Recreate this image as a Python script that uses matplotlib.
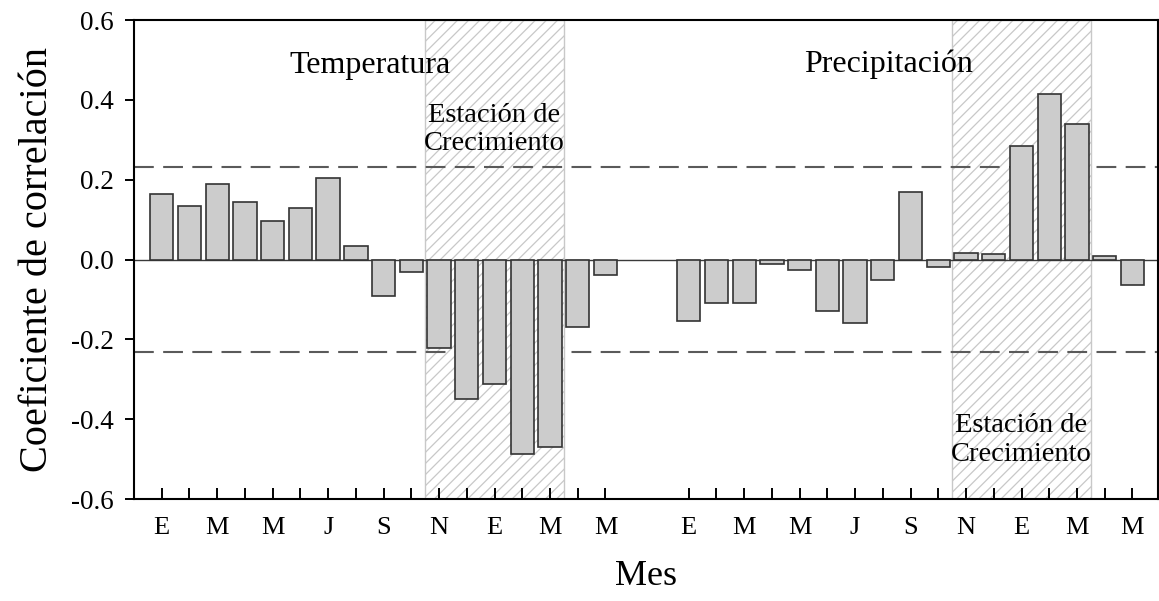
import numpy as np
import matplotlib
matplotlib.use("Agg")
import matplotlib.pyplot as plt

# Month initials from January of the previous year to May of the current year
month_initials = ["E", "F", "M", "A", "M", "J", "J", "A", "S", "O", "N", "D",
                  "E", "F", "M", "A", "M"]

# Correlation coefficients with monthly temperature and precipitation
temp_corr = [0.165, 0.133, 0.189, 0.145, 0.097, 0.128, 0.203, 0.035, -0.092,
             -0.032, -0.221, -0.349, -0.313, -0.488, -0.469, -0.170, -0.040]
prec_corr = [-0.153, -0.108, -0.110, -0.011, -0.027, -0.128, -0.159, -0.052, 0.170,
             -0.018, 0.017, 0.013, 0.284, 0.414, 0.340, 0.008, -0.064]

# Significance threshold (p < 0.05)
signif = 0.232

# Growing season: November to March (indices within each series)
season_start, season_end = 10, 14

plt.rcParams["font.family"] = ["Liberation Serif", "DejaVu Serif"]
plt.rcParams["hatch.linewidth"] = 0.9

fig = plt.figure(figsize=(11.59, 6.01), dpi=100)
ax = fig.add_axes([0.1156, 0.1697, 0.8835, 0.797])

n = len(month_initials)
pos_t = np.arange(n)
pos_p = np.arange(n + 2, 2 * n + 2)

# Growing season shading
for pos in (pos_t, pos_p):
    ax.axvspan(pos[season_start] - 0.5, pos[season_end] + 0.5, facecolor="white",
               edgecolor="#c8c8c8", hatch="///", linewidth=1.0, zorder=1)

# Significance limits and zero line
for s in (signif, -signif):
    ax.axhline(s, color="#5a5a5a", linewidth=1.5, linestyle=(0, (9.5, 4.5)), zorder=2)
ax.axhline(0, color="#3a3a3a", linewidth=1.0, zorder=2)

bar_kw = dict(width=0.84, color="#cccccc", edgecolor="#333333", linewidth=1.2, zorder=3)
ax.bar(pos_t, temp_corr, **bar_kw)
ax.bar(pos_p, prec_corr, **bar_kw)

ax.set_xlim(-1.0, 35.92)
ax.set_ylim(-0.6, 0.6)

# x ticks at every month, labelled every other month
ticks = np.concatenate([pos_t, pos_p])
labels = [m if i % 2 == 0 else "" for i, m in enumerate(month_initials)] * 2
ax.set_xticks(ticks)
ax.set_xticklabels(labels)
ax.set_yticks(np.arange(-0.6, 0.61, 0.2))
ax.set_yticklabels([f"{v:.1f}" for v in np.arange(-0.6, 0.61, 0.2)])

ax.tick_params(axis="x", direction="in", length=8, width=1.4, labelsize=19, pad=13)
ax.tick_params(axis="y", direction="out", length=6.5, width=1.4, labelsize=19.5, pad=8)
for sp in ax.spines.values():
    sp.set_linewidth(1.5)
    sp.set_color("black")

ax.set_ylabel("Coeficiente de correlación", fontsize=29, labelpad=11)
ax.set_xlabel("Mes", fontsize=26, labelpad=15)

ax.text(7.5, 0.485, "Temperatura", fontsize=23, ha="center", va="center", zorder=4)
ax.text(26.2, 0.49, "Precipitación", fontsize=23, ha="center", va="center", zorder=4)
ax.text(12.0, 0.325, "Estación de\nCrecimiento", fontsize=20.5, ha="center", va="center",
        linespacing=1.18, zorder=4)
ax.text(31.0, -0.452, "Estación de\nCrecimiento", fontsize=20.5, ha="center", va="center",
        linespacing=1.18, zorder=4)

fig.savefig("out.png", dpi=100)
